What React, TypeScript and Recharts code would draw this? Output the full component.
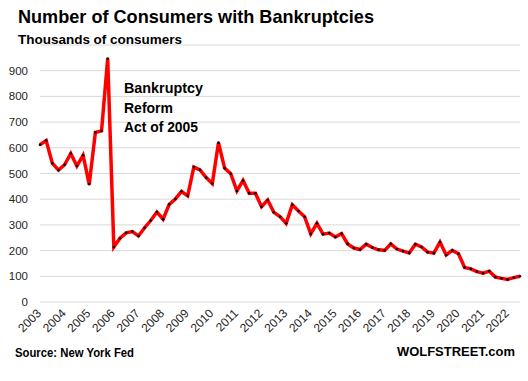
import { CartesianGrid, Line, LineChart, XAxis, YAxis } from "recharts";

const years = [
  2003, 2004, 2005, 2006, 2007, 2008, 2009, 2010, 2011, 2012,
  2013, 2014, 2015, 2016, 2017, 2018, 2019, 2020, 2021, 2022,
];

// quarterly, thousands of consumers, 2003 Q1 .. 2022 Q3
const consumers = [
  612, 628, 540, 513, 534, 578, 529, 571, 458, 660, 666, 947,
  214, 248, 269, 274, 257, 289, 317, 350, 322, 380, 401, 430, 413, 525, 514, 484, 461,
  620, 521, 499, 432, 473, 423, 423, 371, 397, 349, 332, 306, 378, 354, 332, 265, 306, 264, 268, 253, 266, 226,
  210, 204, 225, 212, 203, 201, 226, 206, 198, 191, 225, 214, 194, 190, 233, 183, 201, 188, 134, 129, 118, 112, 120, 97, 92, 88, 95, 100,
];

const yTicks = [0, 100, 200, 300, 400, 500, 600, 700, 800, 900];

const quarters = years.flatMap((y) => [1, 2, 3, 4].map((q) => `${y}Q${q}`));
const data = consumers.map((v, i) => ({ q: quarters[i], v }));
const yearTicks = years.map((y) => `${y}Q1`);

const font = "'Liberation Sans', Arial, sans-serif";

const renderYearTick = (props: any) => {
  const { x, payload } = props;
  return (
    <g transform={`translate(${x + 2}, 314)`}>
      <text
        x={0}
        y={0}
        textAnchor="end"
        transform="rotate(-45)"
        fontSize={12}
        fontFamily={font}
        fill="#262626"
      >
        {String(payload.value).slice(0, 4)}
      </text>
    </g>
  );
};

const App = () => {
  return (
    <div
      style={{
        position: "absolute",
        left: 0,
        top: 0,
        width: 528,
        height: 381,
        background: "#fff",
      }}
    >
      <LineChart
        width={528}
        height={381}
        data={data}
        margin={{ top: 45, right: 8, bottom: 39, left: 0 }}
      >
        <CartesianGrid vertical={false} stroke="#d9d9d9" />
        <XAxis
          dataKey="q"
          ticks={yearTicks}
          interval={0}
          height={40}
          axisLine={false}
          tickLine={false}
          tick={renderYearTick}
        />
        <YAxis
          domain={[0, 1000]}
          ticks={yTicks}
          width={40}
          axisLine={false}
          tickLine={false}
          tickSize={0}
          tickMargin={12}
          tick={{ fontSize: 11.5, fontFamily: font, fill: "#262626" }}
        />
        <Line
          dataKey="v"
          type="linear"
          stroke="#ff0000"
          strokeWidth={3.5}
          dot={{ r: 1.3, fill: "#000", stroke: "#000", strokeWidth: 0 }}
          isAnimationActive={false}
        />
      </LineChart>
      <svg
        width={528}
        height={381}
        style={{ position: "absolute", left: 0, top: 0, pointerEvents: "none" }}
      >
        <g fontFamily={font} fontWeight="bold" fill="#000">
          <text x={18} y={23} fontSize={18.5} textLength={356} lengthAdjust="spacingAndGlyphs">
            Number of Consumers with Bankruptcies
          </text>
          <text x={18} y={43.5} fontSize={13} textLength={164} lengthAdjust="spacingAndGlyphs">
            Thousands of consumers
          </text>
          <text x={124} y={93} fontSize={14.5} textLength={79} lengthAdjust="spacingAndGlyphs">
            Bankruptcy
          </text>
          <text x={124} y={112.5} fontSize={14.5} textLength={49} lengthAdjust="spacingAndGlyphs">
            Reform
          </text>
          <text x={124} y={132} fontSize={14.5} textLength={74} lengthAdjust="spacingAndGlyphs">
            Act of 2005
          </text>
          <text x={15} y={357} fontSize={12} textLength={119} lengthAdjust="spacingAndGlyphs">
            Source: New York Fed
          </text>
          <text x={397} y={356} fontSize={12.5} textLength={118} lengthAdjust="spacingAndGlyphs">
            WOLFSTREET.com
          </text>
        </g>
      </svg>
    </div>
  );
};

export default App;
